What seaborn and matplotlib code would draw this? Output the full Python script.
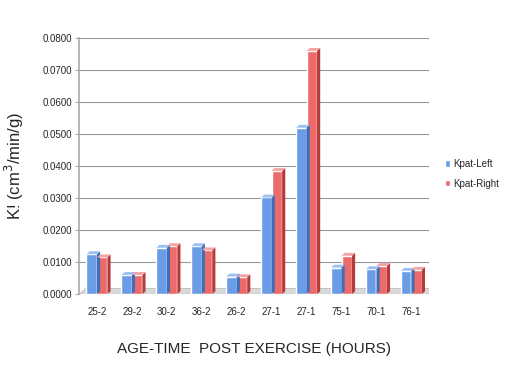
import matplotlib
matplotlib.use('Agg')
import matplotlib.pyplot as plt
from matplotlib.patches import Polygon
import pandas as pd
import seaborn as sns

# values
groups = ['25-2', '29-2', '30-2', '36-2', '26-2', '27-1', '27-1 ', '75-1', '70-1', '76-1']
kpat_left = [0.0125, 0.0060, 0.0145, 0.0150, 0.0055, 0.0302, 0.0520, 0.0083, 0.0078, 0.0073]
kpat_right = [0.0115, 0.0060, 0.0150, 0.0137, 0.0053, 0.0385, 0.0760, 0.0120, 0.0088, 0.0076]
series = ['Kpat-Left', 'Kpat-Right']
colors = {'Kpat-Left': '#6b9ce6', 'Kpat-Right': '#ec6a6a'}
side_colors = {'Kpat-Left': '#3f6db8', 'Kpat-Right': '#b53a3a'}
top_colors = {'Kpat-Left': '#9cc0f2', 'Kpat-Right': '#f7a3a3'}

df = pd.DataFrame({
    'group': groups * 2,
    'value': kpat_left + kpat_right,
    'series': [series[0]] * len(groups) + [series[1]] * len(groups),
})

sns.set_style('white')
plt.rcParams['font.family'] = ['Liberation Sans', 'DejaVu Sans']

fig = plt.figure(figsize=(5.23, 3.70), dpi=100)
ax = fig.add_axes([0.152, 0.205, 0.668, 0.692])

sns.barplot(data=df, x='group', y='value', hue='series', palette=colors,
            width=0.6, ax=ax, saturation=1, legend=True, zorder=3)

ax.set_xlim(-0.5, 9.5)
ax.set_ylim(0, 0.08)
ax.set_yticks([i / 100 for i in range(9)])
ax.set_yticklabels([f'{i / 100:.4f}' for i in range(9)], fontsize=7)
ax.set_xticks(range(len(groups)))
ax.set_xticklabels([g.strip() for g in groups], fontsize=7)
ax.tick_params(axis='x', length=0, pad=9)
ax.tick_params(axis='y', length=3, color='#aaaaaa', left=True, pad=2)

# pseudo 3d depth offsets
dx = 0.09
dy = 0.0009

# floor slab
floor = Polygon([(-0.5, 0), (9.5, 0), (9.5 + dx * 2, dy * 2), (-0.5 + dx * 2, dy * 2)],
                closed=True, facecolor='#d9d9d9', edgecolor='#bbbbbb', lw=0.6, zorder=2)
ax.add_patch(floor)

# gridlines
for t in ax.get_yticks()[1:]:
    ax.axhline(t, color='#9a9a9a', lw=0.8, zorder=1)

# bar sides and tops
for bar in ax.patches:
    if not hasattr(bar, 'get_width') or bar is floor:
        continue
    fc = bar.get_facecolor()
    name = 'Kpat-Left' if fc[2] > fc[0] else 'Kpat-Right'
    x0 = bar.get_x()
    x1 = x0 + bar.get_width()
    h = bar.get_height()
    if h <= 0:
        continue
    ax.add_patch(Polygon([(x1, 0), (x1 + dx, dy), (x1 + dx, h + dy), (x1, h)],
                         closed=True, facecolor=side_colors[name], lw=0, zorder=3))
    ax.add_patch(Polygon([(x0, h), (x0 + dx, h + dy), (x1 + dx, h + dy), (x1, h)],
                         closed=True, facecolor=top_colors[name], lw=0, zorder=3))

for s in ['top', 'right', 'bottom']:
    ax.spines[s].set_visible(False)
ax.spines['left'].set_color('#aaaaaa')
ax.spines['left'].set_linewidth(1.2)

ax.set_xlabel('AGE-TIME  POST EXERCISE (HOURS)', fontsize=11, labelpad=18)
ax.set_ylabel('K! (cm$^3$/min/g)', fontsize=12, labelpad=12)

ax.legend(loc='center left', bbox_to_anchor=(1.02, 0.47), frameon=False,
          fontsize=7, handlelength=0.6, handleheight=0.6, handletextpad=0.3,
          labelspacing=1.0)

fig.savefig('out.png', dpi=100)
